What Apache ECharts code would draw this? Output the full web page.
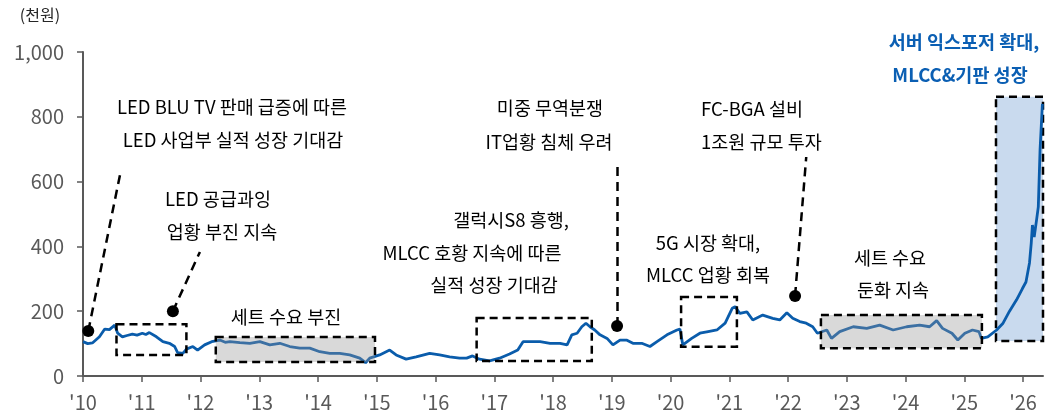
<!DOCTYPE html>
<html>
<head>
<meta charset="utf-8">
<script src="https://cdn.jsdelivr.net/npm/echarts@6/dist/echarts.min.js"></script>
<style>
  html, body { margin: 0; padding: 0; background: #fff; }
  #chart { width: 1061px; height: 416px; }
</style>
</head>
<body>
<div id="chart"></div>
<script>
// 주가 (천원), x = 연도
var priceYears = [
  2010.00, 2010.08, 2010.16, 2010.28, 2010.37, 2010.45, 2010.54, 2010.59, 2010.67, 2010.75,
  2010.84, 2010.92, 2011.01, 2011.07, 2011.13, 2011.25, 2011.36, 2011.47, 2011.56, 2011.61,
  2011.70, 2011.76, 2011.87, 2011.95, 2012.07, 2012.19, 2012.33, 2012.42, 2012.50, 2012.67,
  2012.84, 2013.01, 2013.18, 2013.35, 2013.52, 2013.69, 2013.86, 2014.03, 2014.20, 2014.37,
  2014.54, 2014.71, 2014.81, 2014.88, 2015.05, 2015.22, 2015.33, 2015.50, 2015.67, 2015.90,
  2016.07, 2016.24, 2016.41, 2016.53, 2016.63, 2016.75, 2016.92, 2017.09, 2017.26, 2017.40,
  2017.49, 2017.66, 2017.78, 2017.95, 2018.12, 2018.24, 2018.32, 2018.41, 2018.49, 2018.56,
  2018.63, 2018.71, 2018.80, 2018.92, 2019.02, 2019.14, 2019.25, 2019.36, 2019.51, 2019.65,
  2019.77, 2019.94, 2020.11, 2020.16, 2020.21, 2020.36, 2020.50, 2020.64, 2020.79, 2020.93,
  2021.05, 2021.10, 2021.18, 2021.30, 2021.40, 2021.57, 2021.74, 2021.86, 2021.98, 2022.08,
  2022.20, 2022.31, 2022.42, 2022.50, 2022.66, 2022.74, 2022.88, 2023.11, 2023.34, 2023.56,
  2023.79, 2024.02, 2024.24, 2024.41, 2024.53, 2024.63, 2024.79, 2024.89, 2025.01, 2025.14,
  2025.25, 2025.29, 2025.40, 2025.55, 2025.66, 2025.77, 2025.89, 2025.99, 2026.05, 2026.11,
  2026.14, 2026.16, 2026.19, 2026.23, 2026.26, 2026.29, 2026.33
];
var priceValues = [
  106, 100, 102, 121, 145, 143, 157, 132, 121, 125,
  129, 126, 132, 128, 134, 121, 106, 101, 91, 72,
  70, 83, 91, 80, 96, 106, 111, 104, 106, 103,
  101, 106, 96, 101, 91, 86, 86, 75, 70, 70,
  65, 55, 41, 55, 65, 80, 65, 52, 59, 70,
  65, 59, 55, 55, 62, 52, 47, 55, 68, 80,
  106, 106, 106, 101, 101, 96, 127, 132, 152, 163,
  152, 142, 127, 116, 96, 111, 111, 101, 101, 91,
  106, 127, 142, 145, 96, 116, 132, 137, 142, 163,
  209, 214, 193, 198, 173, 188, 178, 173, 195, 178,
  168, 163, 152, 132, 142, 116, 137, 152, 147, 157,
  142, 152, 157, 152, 171, 147, 132, 111, 132, 142,
  137, 116, 121, 142, 163, 200, 235, 270, 290, 349,
  410, 466, 429, 481, 522, 698, 840
];
var yearTicks = [2010, 2011, 2012, 2013, 2014, 2015, 2016, 2017, 2018, 2019,
                 2020, 2021, 2022, 2023, 2024, 2025, 2026];

// 점선 박스 [x1, y1, x2, y2]
var grayBoxes = [[2012.26, 120, 2014.97, 43], [2022.56, 188, 2025.30, 86]];
var openBoxes = [[2010.57, 160, 2011.76, 65], [2016.70, 179, 2018.66, 46], [2020.18, 244, 2021.13, 90]];
var blueBox = [2025.54, 862, 2026.34, 108];

// 이벤트 점과 지시선
var eventDots = [[2010.09, 139], [2011.53, 200], [2019.09, 154], [2022.12, 247]];
var leaderEnds = [[2010.64, 630], [2011.99, 383], [2019.09, 657], [2022.31, 676]];

var notes = [
  ['LED BLU TV 판매 급증에 따른', 232, 107, 'center'],
  ['LED 사업부 실적 성장 기대감', 233, 140, 'center'],
  ['LED 공급과잉', 218, 199, 'center'],
  ['업황 부진 지속', 222, 232, 'center'],
  ['세트 수요 부진', 286, 317, 'center'],
  ['갤럭시S8 흥행,', 511, 220, 'center'],
  ['MLCC 호황 지속에 따른', 472, 253, 'center'],
  ['실적 성장 기대감', 494, 285, 'center'],
  ['미중 무역분쟁', 550, 108, 'center'],
  ['IT업황 침체 우려', 549, 142, 'center'],
  ['5G 시장 확대,', 708, 243, 'center'],
  ['MLCC 업황 회복', 708, 275, 'center'],
  ['FC-BGA 설비', 701, 109, 'left'],
  ['1조원 규모 투자', 701, 142, 'left'],
  ['세트 수요', 890, 258, 'center'],
  ['둔화 지속', 893, 290, 'center']
];
var blueNotes = [
  ['서버 익스포저 확대,', 964, 42],
  ['MLCC&기판 성장', 960, 75]
];

var FONT = '"Noto Sans CJK KR", "Noto Sans", sans-serif';
var dash = [8, 5];

function boxItem(b, fill) {
  return [
    { coord: [b[0], b[1]], itemStyle: { color: fill, borderColor: '#000', borderWidth: 2.5, borderType: dash } },
    { coord: [b[2], b[3]] }
  ];
}

var lineData = priceYears.map(function (y, i) { return [y, priceValues[i]]; });

var graphics = notes.map(function (n) {
  return {
    type: 'text', silent: true,
    style: { text: n[0], x: n[1], y: n[2], textAlign: n[3], textVerticalAlign: 'middle',
             font: '18.5px ' + FONT, fill: '#000' }
  };
});
blueNotes.forEach(function (n) {
  graphics.push({
    type: 'text', silent: true,
    style: { text: n[0], x: n[1], y: n[2], textAlign: 'center', textVerticalAlign: 'middle',
             font: 'bold 18.5px ' + FONT, fill: '#0B5FB3' }
  });
});
graphics.push({
  type: 'text', silent: true,
  style: { text: '(천원)', x: 40, y: 15, textAlign: 'center', textVerticalAlign: 'middle',
           font: '16px ' + FONT, fill: '#262626' }
});

var myChart = echarts.init(document.getElementById('chart'));
var option = {
  animation: false,
  grid: { left: 83, right: 18, top: 52, bottom: 40 },
  xAxis: {
    type: 'value',
    min: 2010,
    max: 2026.34,
    splitLine: { show: false },
    axisLine: { show: true, lineStyle: { color: '#595959', width: 2 } },
    axisTick: { show: true, length: 6, customValues: yearTicks, lineStyle: { color: '#595959', width: 1.5 } },
    axisLabel: {
      customValues: yearTicks,
      margin: 16,
      color: '#595959',
      fontSize: 20,
      fontFamily: FONT,
      formatter: function (v) { return "'" + String(Math.round(v)).slice(2); }
    }
  },
  yAxis: {
    type: 'value',
    min: 0,
    max: 1000,
    interval: 200,
    splitLine: { show: false },
    axisLine: { show: true, lineStyle: { color: '#595959', width: 2 } },
    axisTick: { show: true, length: 6, lineStyle: { color: '#595959', width: 1.5 } },
    axisLabel: {
      margin: 19,
      color: '#595959',
      fontSize: 20,
      fontFamily: FONT,
      formatter: function (v) { return v >= 1000 ? '1,000' : String(v); }
    }
  },
  series: [
    {
      type: 'line',
      data: lineData,
      showSymbol: false,
      z: 2,
      lineStyle: { color: '#0A5CAB', width: 2.8 },
      markArea: {
        silent: true,
        z: 1,
        data: [boxItem(blueBox, '#C9DAEE')]
      },
      markLine: {
        silent: true,
        symbol: ['none', 'none'],
        label: { show: false },
        lineStyle: { color: '#000', width: 2.5, type: [9, 6] },
        data: eventDots.map(function (d, i) {
          return [{ coord: d }, { coord: leaderEnds[i] }];
        })
      },
      markPoint: {
        silent: true,
        symbol: 'circle',
        symbolSize: 12,
        itemStyle: { color: '#000' },
        label: { show: false },
        data: eventDots.map(function (d) { return { coord: d }; })
      }
    },
    {
      type: 'line',
      data: [],
      markArea: {
        silent: true,
        z: 3,
        data: grayBoxes.map(function (b) { return boxItem(b, 'rgba(150,150,150,0.36)'); })
          .concat(openBoxes.map(function (b) { return boxItem(b, 'rgba(0,0,0,0)'); }))
      }
    }
  ],
  graphic: graphics
};
myChart.setOption(option);
</script>
</body>
</html>
